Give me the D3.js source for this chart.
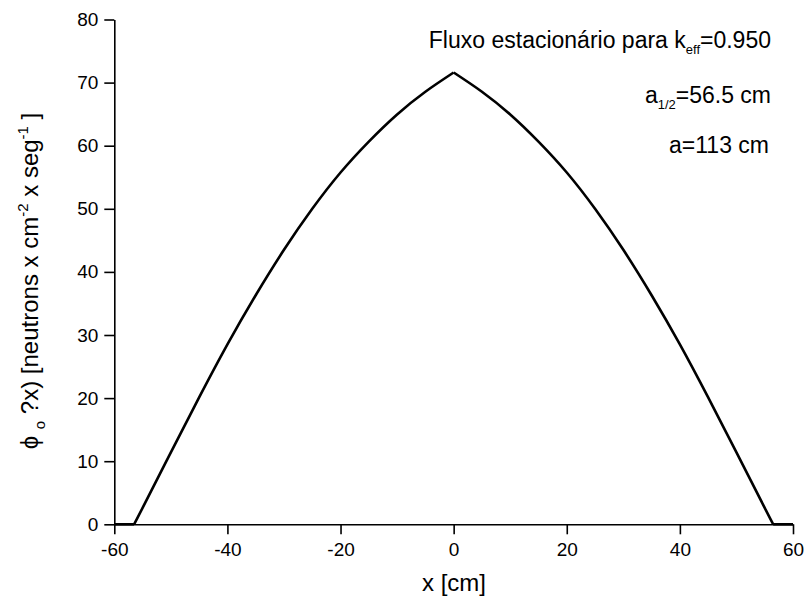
<!DOCTYPE html>
<html>
<head>
<meta charset="utf-8">
<script src="https://cdn.jsdelivr.net/npm/d3@7"></script>
<style>
  html, body { margin: 0; padding: 0; background: #fff; }
  svg { display: block; font-family: "Liberation Sans", Arial, sans-serif; }
</style>
</head>
<body>
<svg id="chart" width="808" height="605"></svg>
<script>
// ---- data ----
const xValues = [-60, -56.5, -55, -50, -45, -40, -35, -30, -25, -20, -15, -10, -5, 0,
                 5, 10, 15, 20, 25, 30, 35, 40, 45, 50, 55, 56.5, 60];
const phiValues = [0, 0, 2.6, 11.4, 20.1, 28.5, 36.3, 43.5, 50.0, 55.75, 60.65, 64.95, 68.55, 71.6,
                   68.55, 64.95, 60.65, 55.75, 50.0, 43.5, 36.3, 28.5, 20.1, 11.4, 2.6, 0, 0];
const xMajorTicks = [-60, -40, -20, 0, 20, 40, 60];
const xMinorTicks = [-50, -30, -10, 10, 30, 50];
const yMajorTicks = [0, 10, 20, 30, 40, 50, 60, 70, 80];
const yMinorTicks = [5, 15, 25, 35, 45, 55, 65, 75];

const svg = d3.select("#chart");
const x = d3.scaleLinear().domain([-60, 60]).range([114.3, 793]);
const y = d3.scaleLinear().domain([0, 80]).range([524.3, 19.5]);

// axes
const gx = svg.append("g").attr("transform", `translate(0,${y(0)})`);
gx.call(d3.axisBottom(x).tickValues(xMinorTicks).tickSize(5).tickFormat(""));
gx.call(d3.axisBottom(x).tickValues(xMajorTicks).tickSize(10).tickSizeOuter(0).tickPadding(8)
  .tickFormat(d3.format("d")));
const gy = svg.append("g").attr("transform", `translate(${x(-60)},0)`);
gy.call(d3.axisLeft(y).tickValues(yMinorTicks).tickSize(5).tickFormat(""));
gy.call(d3.axisLeft(y).tickValues(yMajorTicks).tickSize(10).tickSizeOuter(0).tickPadding(6)
  .tickFormat(d3.format("d")));

svg.selectAll(".domain").attr("stroke", "#000").attr("stroke-width", 1.6);
svg.selectAll(".tick line").attr("stroke", "#000").attr("stroke-width", 1.6);
svg.selectAll(".tick text").attr("fill", "#000").style("font-size", "19px")
  .style("font-family", "'Liberation Sans', Arial, sans-serif");
gx.selectAll(".tick text").text(d => d < 0 ? "-" + Math.abs(d) : d);

// curve: flat zero parts straight, rising/falling halves smooth, cusp at x = 0
const pts = xValues.map((v, i) => ({x: v, y: phiValues[i]}));
const flatL = pts.filter(p => p.x <= -56.5);
const riseL = pts.filter(p => p.x >= -56.5 && p.x <= 0);
const fallR = pts.filter(p => p.x >= 0 && p.x <= 56.5);
const flatR = pts.filter(p => p.x >= 56.5);
const lin = d3.line().x(d => x(d.x)).y(d => y(d.y));
const smooth = d3.line().x(d => x(d.x)).y(d => y(d.y)).curve(d3.curveNatural);
[[flatL, lin], [riseL, smooth], [fallR, smooth], [flatR, lin]].forEach(([seg, gen]) => {
  svg.append("path").datum(seg).attr("d", gen)
    .attr("fill", "none").attr("stroke", "#000").attr("stroke-width", 2.6)
    .attr("stroke-linejoin", "miter");
});

// axis titles
svg.append("text").attr("x", 454).attr("y", 591).attr("text-anchor", "middle")
  .style("font-size", "24px").text("x [cm]");

const yt = svg.append("text").attr("transform", "translate(38,281) rotate(-90)")
  .attr("text-anchor", "middle").style("font-size", "24px");
yt.append("tspan").text("ϕ ");
yt.append("tspan").attr("dy", 7).style("font-size", "15px").text("o");
yt.append("tspan").attr("dy", -7).text(" ?x) [neutrons x cm");
yt.append("tspan").attr("dy", -10).style("font-size", "15px").text("-2");
yt.append("tspan").attr("dy", 10).text(" x seg");
yt.append("tspan").attr("dy", -10).style("font-size", "15px").text("-1");
yt.append("tspan").attr("dy", 10).text(" ]");

// annotations
const t1 = svg.append("text").attr("x", 771).attr("y", 48).attr("text-anchor", "end")
  .style("font-size", "23px");
t1.append("tspan").text("Fluxo estacionário para k");
t1.append("tspan").attr("dy", 6).style("font-size", "13px").text("eff");
t1.append("tspan").attr("dy", -6).text("=0.950");

const t2 = svg.append("text").attr("x", 771).attr("y", 103).attr("text-anchor", "end")
  .style("font-size", "23px");
t2.append("tspan").text("a");
t2.append("tspan").attr("dy", 6).style("font-size", "13px").text("1/2");
t2.append("tspan").attr("dy", -6).text("=56.5 cm");

svg.append("text").attr("x", 769).attr("y", 153).attr("text-anchor", "end")
  .style("font-size", "23px").text("a=113 cm");
</script>
</body>
</html>
